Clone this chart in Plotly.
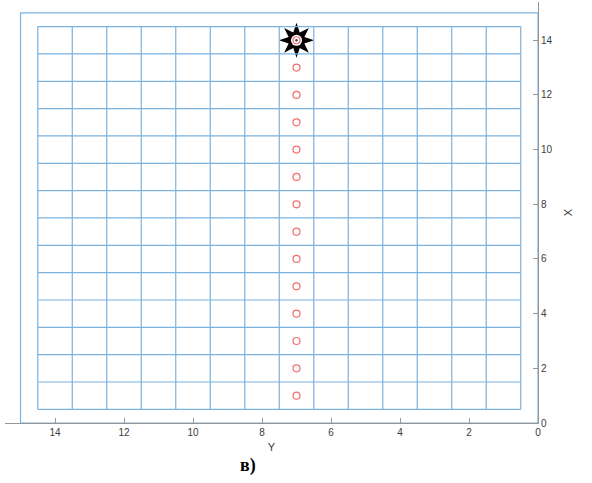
import numpy as np
import plotly.graph_objects as go

# Mesh nodes: cell edges in both directions
grid_edges = [0.5, 1.5, 2.5, 3.5, 4.5, 5.5, 6.5, 7.5, 8.5, 9.5, 10.5, 11.5, 12.5, 13.5, 14.5]
# Outer domain boundary
domain = [0, 15]

# Path points (horizontal coordinate Y, vertical coordinate X)
path_y = [7, 7, 7, 7, 7, 7, 7, 7, 7, 7, 7, 7, 7, 7]
path_x = [1, 2, 3, 4, 5, 6, 7, 8, 9, 10, 11, 12, 13, 14]

# Target position
target_y = [7]
target_x = [14]

x_ticks = [0, 2, 4, 6, 8, 10, 12, 14]
y_ticks = [0, 2, 4, 6, 8, 10, 12, 14]

mesh_color = "rgb(122,178,224)"
axis_color = "rgb(150,150,150)"

# Build mesh line segments separated by None
gx, gy = [], []
lo, hi = grid_edges[0], grid_edges[-1]
for v in grid_edges:
    gx += [v, v, None]
    gy += [lo, hi, None]
    gx += [lo, hi, None]
    gy += [v, v, None]

fig = go.Figure()

fig.add_trace(go.Scatter(
    x=[domain[1], domain[1], domain[0], domain[0], domain[1]],
    y=[domain[0], domain[1], domain[1], domain[0], domain[0]],
    mode="lines", line=dict(color=mesh_color, width=1.2),
    hoverinfo="skip", showlegend=False, cliponaxis=False))

fig.add_trace(go.Scatter(
    x=gx, y=gy, mode="lines", line=dict(color=mesh_color, width=1.2),
    hoverinfo="skip", showlegend=False))

# White centre of the target star
fig.add_trace(go.Scatter(
    x=target_y, y=target_x, mode="markers",
    marker=dict(symbol="circle", size=11, color="white", line=dict(width=0)),
    showlegend=False, hoverinfo="skip"))

fig.add_trace(go.Scatter(
    x=path_y, y=path_x, mode="markers",
    marker=dict(symbol="circle-open", size=7, color="rgb(240,110,110)",
                line=dict(width=1.2)),
    showlegend=False))

fig.add_trace(go.Scatter(
    x=target_y, y=target_x, mode="markers",
    marker=dict(symbol="circle", size=2.5, color="rgb(90,60,60)"),
    showlegend=False, hoverinfo="skip"))

# Eight-pointed star outline in pixel offsets, anchored at the target
n_pts = 8
r_out, r_in = 17.5, 8.5
ang = np.pi / 2 + np.arange(2 * n_pts) * np.pi / n_pts
rad = np.where(np.arange(2 * n_pts) % 2 == 0, r_out, r_in)
px = rad * np.cos(ang)
py = rad * np.sin(ang)
star_path = "M " + " L ".join(f"{a:.2f},{b:.2f}" for a, b in zip(px, py)) + " Z"

fig.add_shape(
    type="path", path=star_path,
    xref="x", yref="y", xsizemode="pixel", ysizemode="pixel",
    xanchor=target_y[0], yanchor=target_x[0],
    fillcolor="black", line=dict(width=0), layer="between")

fig.add_annotation(
    text="<b>в)</b>", xref="paper", yref="paper", x=0.455, y=-0.1,
    xanchor="center", yanchor="middle", showarrow=False,
    font=dict(family="Liberation Serif", size=18, color="black"))

fig.update_layout(
    width=592, height=483,
    margin=dict(l=5, r=54, t=2, b=60),
    paper_bgcolor="white", plot_bgcolor="white",
    font=dict(family="Liberation Sans", size=10, color="rgb(60,60,60)"),
    showlegend=False,
    xaxis=dict(
        range=[15.45, 0], tickvals=x_ticks, ticks="inside", ticklen=5,
        tickcolor=axis_color, showline=True, linecolor=axis_color, linewidth=1,
        showgrid=False, zeroline=False, mirror=False,
        title=dict(text="Y", font=dict(size=11), standoff=6),
    ),
    yaxis=dict(
        range=[0, 15.4], tickvals=y_ticks, ticks="inside", ticklen=5,
        tickcolor=axis_color, showline=True, linecolor=axis_color, linewidth=1,
        showgrid=False, zeroline=False, side="right",
        title=dict(text="X", font=dict(size=11), standoff=12),
    ),
)

fig.write_html("out.html")
